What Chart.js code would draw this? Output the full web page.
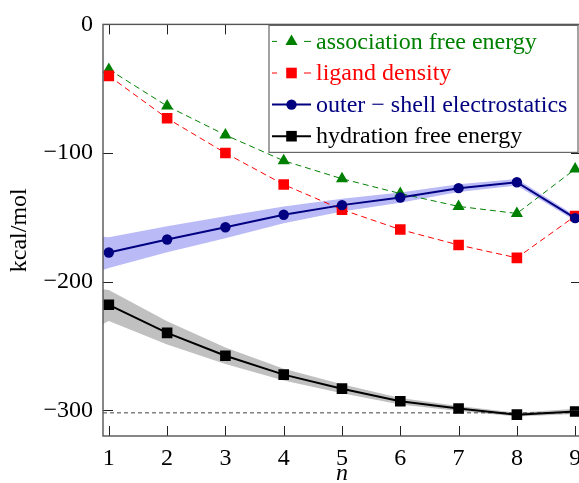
<!DOCTYPE html>
<html>
<head>
<meta charset="utf-8">
<script src="https://cdn.jsdelivr.net/npm/chart.js@4"></script>
<style>
  html, body { margin: 0; padding: 0; overflow: hidden; background: #fff; }
  #chart { display: block; }
</style>
</head>
<body>
<canvas id="chart" width="590" height="483"></canvas>
<script>
    // values
    const nValues = [1, 2, 3, 4, 5, 6, 7, 8, 9];
    const assocEnergy = [-35, -63.5, -86, -106, -120, -131.5, -141.5, -147, -112.5];
    const ligandDensity = [-40, -73, -100, -124.5, -144, -159.5, -171.5, -181.5, -149];
    const outerShell = [-177.3, -167.2, -157.7, -148, -140.5, -134.6, -127.3, -122.7, -150.6];
    const hydration = [-218, -239.8, -257.6, -272.3, -283.2, -293, -298.6, -303.4, -300.9];

    // uncertainty bands (upper / lower edges)
    const bandN = [0.9, 1, 2, 3, 4, 5, 6, 7, 8, 9];
    const outerUpper = [-165, -165.5, -157, -149.2, -141.5, -135.5, -130.6, -124.3, -120.2, -148.6];
    const outerLower = [-191, -189.3, -177.2, -166.2, -154.5, -145.5, -138.6, -130.3, -125.2, -152.6];
    const hydUpper = [-206, -206.5, -230.8, -251.1, -267.8, -279.7, -290.5, -296.6, -301.9, -298.9];
    const hydLower = [-233, -230.5, -248.8, -264.1, -276.8, -286.7, -295.5, -300.6, -304.9, -302.9];

    const refLevel = -302;
    const xRange = [0.9, 9.1];
    const yRange = [-320, 0];
    const yTicks = [0, -100, -200, -300];

    const labels = ['association free energy', 'ligand density', 'outer \u2212 shell electrostatics', 'hydration free energy'];

    const serif = '"Liberation Serif", "DejaVu Serif", serif';
    Chart.defaults.font.family = serif;
    Chart.defaults.color = '#000';

    function pair(xs, ys) {
        var result = [];
        for (var i = 0; i < xs.length; i++) {
            result.push({x: xs[i], y: ys[i]});
        }
        return result;
    }

    function bandEdge(xs, ys, fill, color) {
        return {
            data: pair(xs, ys),
            borderWidth: 0,
            pointRadius: 0,
            fill: fill,
            backgroundColor: color,
            order: 10,
        };
    }

    function drawMarker(ctx, style, x, y, r, color) {
        ctx.save();
        ctx.fillStyle = color;
        ctx.beginPath();
        if (style === 'triangle') {
            for (var k = 0; k < 3; k++) {
                var a = k * 2 * Math.PI / 3;
                var px = x + Math.sin(a) * r, py = y - Math.cos(a) * r;
                if (k === 0) ctx.moveTo(px, py); else ctx.lineTo(px, py);
            }
            ctx.closePath();
        } else if (style === 'rect') {
            var s = Math.SQRT1_2 * r;
            ctx.rect(x - s, y - s, 2 * s, 2 * s);
        } else {
            ctx.arc(x, y, r, 0, 2 * Math.PI);
        }
        ctx.fill();
        ctx.restore();
    }

    // inward ticks on all four sides, frame and the boxed legend
    const framePlugin = {
        id: 'frame',
        afterDraw(chart) {
            const ctx = chart.ctx;
            const a = chart.chartArea;
            const xs = chart.scales.x, ys = chart.scales.y;
            const tl = 10;
            ctx.save();
            ctx.strokeStyle = '#222';
            ctx.lineWidth = 1;
            ctx.beginPath();
            nValues.forEach(v => {
                const px = Math.round(xs.getPixelForValue(v)) + 0.5;
                ctx.moveTo(px, a.bottom); ctx.lineTo(px, a.bottom - tl);
                ctx.moveTo(px, a.top); ctx.lineTo(px, a.top + tl);
            });
            yTicks.forEach(v => {
                const py = Math.round(ys.getPixelForValue(v)) + 0.5;
                ctx.moveTo(a.left, py); ctx.lineTo(a.left + tl, py);
                ctx.moveTo(a.right, py); ctx.lineTo(a.right - tl, py);
            });
            ctx.stroke();

            ctx.strokeStyle = '#555';
            ctx.lineWidth = 1.4;
            ctx.strokeRect(a.left, a.top, a.right - a.left, a.bottom - a.top);

            // legend
            const bw = 309, bh = 127;
            const bx = a.right - 3 - bw, by = a.top + 1;
            ctx.fillStyle = '#fff';
            ctx.fillRect(bx, by, bw, bh);
            ctx.strokeStyle = '#666';
            ctx.lineWidth = 1.2;
            ctx.strokeRect(bx, by, bw, bh);

            const entries = chart.data.datasets.filter(d => d.label);
            const rowH = 31.6;
            entries.forEach((d, i) => {
                const cy = by + 16 + i * rowH;
                const x0 = bx + 3, x1 = bx + 42, xm = (x0 + x1) / 2;
                ctx.strokeStyle = d.borderColor;
                ctx.lineWidth = d.borderWidth;
                ctx.beginPath();
                if (d.borderDash) {
                    ctx.moveTo(x0, cy); ctx.lineTo(x0 + 5, cy);
                    ctx.moveTo(x1 - 7, cy); ctx.lineTo(x1, cy);
                } else {
                    ctx.moveTo(x0, cy); ctx.lineTo(x1, cy);
                }
                ctx.stroke();
                drawMarker(ctx, d.pointStyle, xm, cy, d.pointRadius, d.pointBackgroundColor);
                ctx.fillStyle = d.borderColor;
                ctx.font = '24px ' + serif;
                ctx.textBaseline = 'middle';
                ctx.textAlign = 'left';
                ctx.fillText(d.label, bx + 47, cy + 1);
            });
            ctx.restore();
        }
    };

    new Chart(document.getElementById('chart'), {
        type: 'line',
        data: {
            datasets: [
                bandEdge(bandN, outerUpper, false, 'rgba(0,0,0,0)'),
                bandEdge(bandN, outerLower, '-1', '#babaf7'),
                bandEdge(bandN, hydUpper, false, 'rgba(0,0,0,0)'),
                bandEdge(bandN, hydLower, '-1', '#c0c0c0'),
                {
                    data: pair(xRange, [refLevel, refLevel]),
                    borderColor: '#444',
                    borderWidth: 1,
                    borderDash: [4, 3],
                    pointRadius: 0,
                    order: 8,
                },
                {
                    label: labels[0],
                    data: pair(nValues, assocEnergy),
                    borderColor: '#008000',
                    borderWidth: 1,
                    borderDash: [6, 4],
                    pointStyle: 'triangle',
                    pointRadius: 7,
                    pointBackgroundColor: '#008000',
                    pointBorderWidth: 0,
                    order: 4,
                },
                {
                    label: labels[1],
                    data: pair(nValues, ligandDensity),
                    borderColor: '#ff0000',
                    borderWidth: 1,
                    borderDash: [6, 4],
                    pointStyle: 'rect',
                    pointRadius: 7.5,
                    pointBackgroundColor: '#ff0000',
                    pointBorderWidth: 0,
                    order: 3,
                },
                {
                    label: labels[2],
                    data: pair(nValues, outerShell),
                    borderColor: '#000080',
                    borderWidth: 2,
                    pointStyle: 'circle',
                    pointRadius: 5.2,
                    pointBackgroundColor: '#000080',
                    pointBorderWidth: 0,
                    order: 2,
                },
                {
                    label: labels[3],
                    data: pair(nValues, hydration),
                    borderColor: '#000000',
                    borderWidth: 2,
                    pointStyle: 'rect',
                    pointRadius: 7.5,
                    pointBackgroundColor: '#000000',
                    pointBorderWidth: 0,
                    order: 1,
                },
            ],
        },
        options: {
            responsive: false,
            animation: false,
            parsing: false,
            layout: { padding: { top: 15, right: 9, left: 0, bottom: 0 } },
            plugins: {
                legend: { display: false },
                tooltip: { enabled: false },
            },
            scales: {
                x: {
                    type: 'linear',
                    min: xRange[0],
                    max: xRange[1],
                    grid: { display: false, drawTicks: false },
                    border: { display: false },
                    afterBuildTicks: axis => { axis.ticks = nValues.map(v => ({value: v})); },
                    afterFit: axis => { axis.height = 47; },
                    ticks: { font: { size: 24 }, padding: 8, color: '#000' },
                    title: {
                        display: true,
                        text: 'n',
                        font: { size: 24, style: 'italic', lineHeight: 1 },
                        padding: { top: 0, bottom: -3 },
                    },
                },
                y: {
                    type: 'linear',
                    min: yRange[0],
                    max: yRange[1],
                    grid: { display: false, drawTicks: false },
                    border: { display: false },
                    afterBuildTicks: axis => { axis.ticks = yTicks.map(v => ({value: v})); },
                    afterFit: axis => { axis.width = 103; },
                    ticks: {
                        font: { size: 24 },
                        padding: 10,
                        color: '#000',
                        callback: v => (v < 0 ? '\u2212' + Math.abs(v) : String(v)),
                    },
                    title: {
                        display: true,
                        text: 'kcal/mol',
                        font: { size: 24, lineHeight: 1 },
                        padding: { top: 8, bottom: 0 },
                    },
                },
            },
        },
        plugins: [framePlugin],
    });
</script>
</body>
</html>
